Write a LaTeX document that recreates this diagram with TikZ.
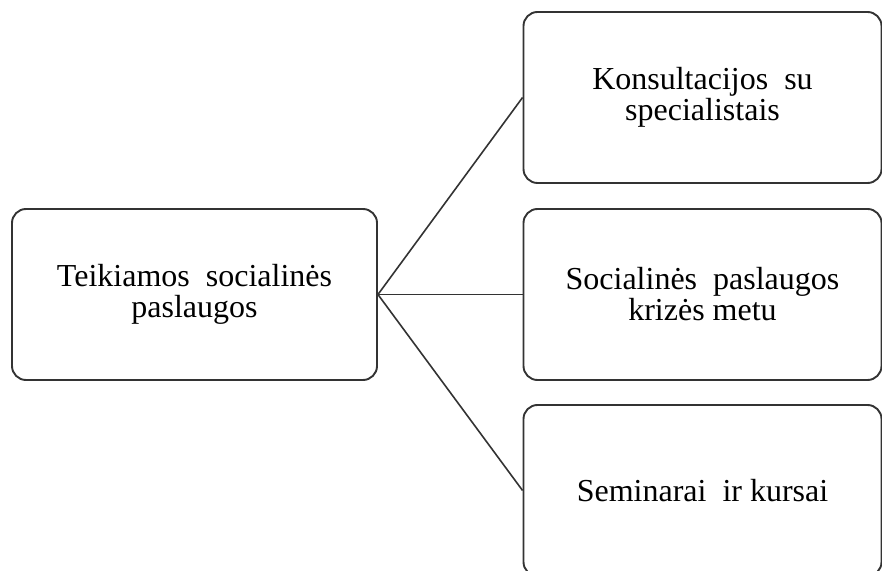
\documentclass[tikz,border=0pt]{standalone}
\usepackage{fontspec}
\setmainfont{Liberation Serif}
\begin{document}
\begin{tikzpicture}[x=1pt,y=1pt,
  box/.style={draw=black!80, line width=1.9pt, rounded corners=14pt, fill=white,
    align=center, inner sep=0pt,
    font=\fontsize{32}{31}\selectfont},
  link/.style={draw=black!80, line width=1.6pt}]
\useasboundingbox (0,0) rectangle (882,570);
\clip (0,0) rectangle (882,570);
\node[box, minimum width=365pt, minimum height=171pt] (main) at (194.5,275.5)
  {Teikiamos\ \ socialinės\\paslaugos};
\node[box, minimum width=358pt, minimum height=171pt] (k) at (702.5,472.5)
  {Konsultacijos\ \ su\\specialistais};
\node[box, minimum width=358pt, minimum height=171pt] (s) at (702.5,275.5)
  {Socialinės\ \ paslaugos\\krizės metu};
\node[box, minimum width=358pt, minimum height=171pt] (m) at (702.5,79.5)
  {Seminarai\ \ ir kursai};
\draw[link] (main.east) -- (k.west);
\draw[link] (main.east) -- (s.west);
\draw[link] (main.east) -- (m.west);
\end{tikzpicture}
\end{document}
